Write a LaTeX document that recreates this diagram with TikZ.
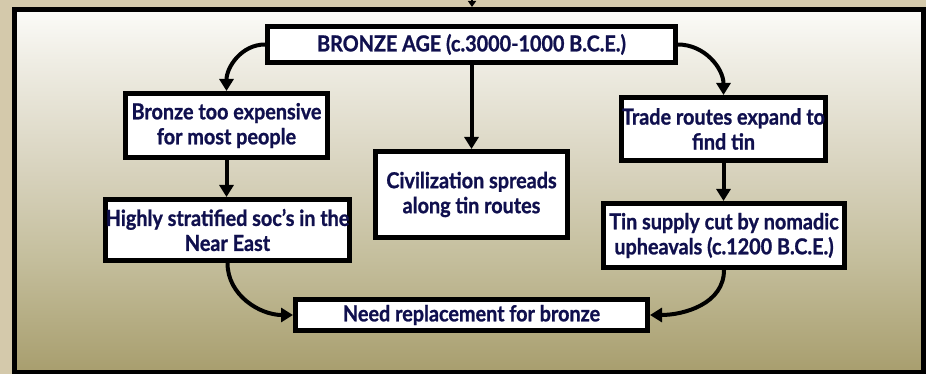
\documentclass[tikz,border=0pt]{standalone}
\usepackage{fontspec}
\setmainfont{Lato}
\newfontfamily\boxfont{Lato}[FakeStretch=0.9,FakeBold=1]
\usetikzlibrary{arrows.meta}

\definecolor{pagetan}{HTML}{D4C9AB}
\definecolor{inktext}{HTML}{10104E}
\definecolor{shA}{HTML}{A89E6E}
\definecolor{shB}{HTML}{C4BE9C}
\definecolor{shC}{HTML}{D8D3BE}
\definecolor{shD}{HTML}{EFEDE4}
\definecolor{shE}{HTML}{FBFBF8}

% olive-to-cream backdrop of the main panel (path spans 25bp..75bp)
\pgfdeclareverticalshading{panelshade}{100bp}{%
  color(0bp)=(shA); color(25bp)=(shA); color(40.5bp)=(shB);
  color(53bp)=(shC); color(68bp)=(shD); color(75bp)=(shE); color(100bp)=(shE)}

\tikzset{
  panelbox/.style={draw=black, line width=5pt, shading=panelshade,
    inner sep=0pt, minimum width=908.5pt, minimum height=362.5pt},
  stagebox/.style={draw=black, line width=5pt, fill=white, inner sep=0pt,
    align=center, text=inktext,
    font=\boxfont\bfseries\fontsize{22}{25}\selectfont},
  link/.style={line width=4pt, draw=black,
    -{Triangle[length=12pt,width=14pt]}},
  feedin/.style={line width=2pt, draw=black,
    -{Triangle[length=6pt,width=8pt]}},
}

\begin{document}
\begin{tikzpicture}[x=1pt,y=-1pt]
  \useasboundingbox (0,0) rectangle (926,374);
  \fill[pagetan] (0,0) rectangle (926,374);

  \node[panelbox] (panel) at (468.75,190.75) {};

  \node[stagebox, minimum width=408pt, minimum height=36pt] (bronze) at (471.5,44.5)
    {BRONZE AGE (c.3000-1000 B.C.E.)};
  \node[stagebox, minimum width=202pt, minimum height=64pt] (expensive) at (226.5,125.5)
    {Bronze too expensive\\for most people};
  \node[stagebox, minimum width=192pt, minimum height=86pt] (civ) at (471.5,194.5)
    {Civilization spreads\\along tin routes};
  \node[stagebox, minimum width=204pt, minimum height=63pt] (trade) at (723.5,129)
    {Trade routes expand to\\find tin};
  \node[stagebox, minimum width=244pt, minimum height=61pt] (strat) at (227.5,230)
    {Highly stratified soc’s in the\\Near East};
  \node[stagebox, minimum width=241pt, minimum height=64pt] (tin) at (724,235.5)
    {Tin supply cut by nomadic\\upheavals (c.1200 B.C.E.)};
  \node[stagebox, minimum width=352pt, minimum height=31pt] (need) at (471.5,315)
    {Need replacement for bronze};

  % arrow entering the panel from above
  \coordinate (feed) at (472,-4);
  \draw[feedin] (feed) -- (feed |- panel.north);

  \draw[link] (bronze.west) to[out=180,in=90] (expensive.north);
  \draw[link] (bronze.east) to[out=0,in=90] (trade.north);
  \draw[link] (bronze.south -| civ.north) -- (civ.north);
  \draw[link] (expensive.south) -- (strat.north -| expensive.south);
  \draw[link] (trade.south) -- (tin.north -| trade.south);
  \draw[link] (strat.south) to[out=-90,in=180] (need.west);
  \draw[link] (tin.south) to[out=-90,in=0] (need.east);
\end{tikzpicture}
\end{document}
